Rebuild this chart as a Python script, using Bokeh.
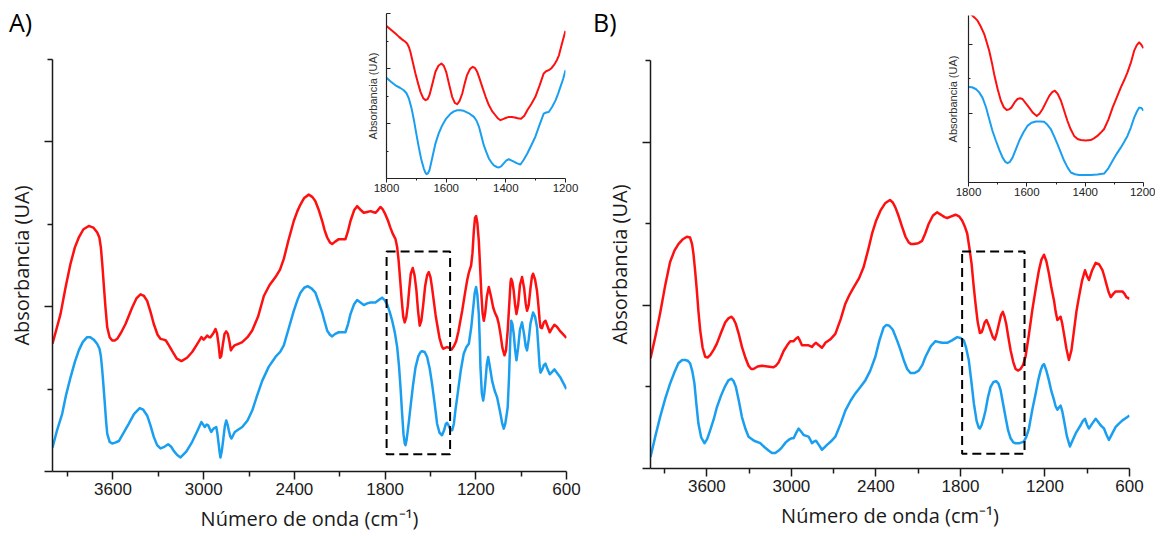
from bokeh.plotting import figure
from bokeh.layouts import row
from bokeh.models import Range1d, FixedTicker, Div
from bokeh.embed import file_html
from bokeh.resources import INLINE

RED = "#ff1010"
BLUE = "#1a9ff0"

# ---------------- data ----------------
a_red_x = [4000, 3975, 3947, 3915, 3881, 3852, 3826, 3795, 3760, 3730, 3704, 3690, 3680, 3670, 3661,
           3650, 3638, 3622, 3605, 3588, 3572, 3545, 3517, 3495, 3473, 3445, 3418, 3395, 3374, 3352,
           3330, 3305, 3286, 3265, 3250, 3230, 3208, 3178, 3147, 3110, 3076, 3045, 3015, 3000, 2985,
           2977, 2965, 2955, 2935, 2922, 2912, 2902, 2892, 2884, 2874, 2862, 2851, 2840, 2830, 2820,
           2810, 2796, 2770, 2745, 2710, 2679, 2640, 2602, 2565, 2525, 2495, 2470, 2440, 2404, 2380,
           2360, 2335, 2305, 2280, 2261, 2240, 2216, 2200, 2183, 2165, 2150, 2130, 2106, 2085, 2062,
           2045, 2029, 2005, 1985, 1965, 1941, 1918, 1897, 1880, 1864, 1848, 1831, 1815, 1798, 1780,
           1765, 1748, 1731, 1720, 1710, 1700, 1690, 1680, 1670, 1660, 1650, 1640, 1630, 1617, 1605,
           1593, 1582, 1571, 1560, 1548, 1535, 1522, 1511, 1500, 1490, 1478, 1466, 1456, 1440, 1425,
           1416, 1403, 1390, 1375, 1360, 1345, 1330, 1315, 1300, 1290, 1270, 1257, 1245, 1231, 1222,
           1213, 1205, 1198, 1190, 1180, 1172, 1163, 1155, 1147, 1138, 1127, 1114, 1100, 1085, 1072,
           1059, 1048, 1037, 1024, 1010, 1000, 989, 978, 970, 966, 958, 949, 940, 931, 920,
           908, 894, 880, 870, 861, 850, 838, 828, 821, 808, 795, 785, 778, 772, 762,
           750, 739, 725, 711, 695, 680, 665, 645, 625, 600]
a_red_y = [1.55, 1.72, 1.91, 2.22, 2.52, 2.72, 2.84, 2.94, 2.98, 2.96, 2.90, 2.84, 2.72, 2.50, 2.27,
           2.00, 1.75, 1.63, 1.59, 1.59, 1.61, 1.69, 1.79, 1.89, 1.99, 2.10, 2.15, 2.13, 2.07, 1.94,
           1.79, 1.66, 1.61, 1.60, 1.59, 1.53, 1.46, 1.37, 1.34, 1.38, 1.45, 1.54, 1.63, 1.60, 1.63,
           1.65, 1.63, 1.63, 1.68, 1.73, 1.68, 1.55, 1.38, 1.40, 1.53, 1.67, 1.70, 1.67, 1.58, 1.47,
           1.50, 1.53, 1.55, 1.57, 1.63, 1.71, 1.88, 2.13, 2.26, 2.36, 2.45, 2.58, 2.80, 3.04, 3.16,
           3.24, 3.32, 3.36, 3.33, 3.28, 3.18, 3.04, 2.93, 2.84, 2.78, 2.76, 2.79, 2.82, 2.82, 2.82,
           2.92, 3.04, 3.17, 3.22, 3.18, 3.14, 3.15, 3.16, 3.15, 3.14, 3.17, 3.21, 3.18, 3.12, 3.04,
           2.96, 2.88, 2.82, 2.72, 2.55, 2.32, 2.08, 1.88, 1.81, 1.87, 2.01, 2.22, 2.40, 2.47, 2.38,
           2.20, 1.95, 1.77, 1.83, 2.02, 2.25, 2.38, 2.42, 2.36, 2.24, 2.07, 1.90, 1.79, 1.62, 1.52,
           1.49, 1.50, 1.51, 1.50, 1.48, 1.52, 1.58, 1.70, 1.85, 1.95, 2.18, 2.32, 2.42, 2.50, 2.65,
           2.92, 3.08, 3.10, 3.02, 2.80, 2.50, 2.15, 1.92, 1.83, 1.92, 2.12, 2.24, 2.13, 1.99, 1.92,
           1.87, 1.79, 1.67, 1.50, 1.41, 1.47, 1.71, 2.05, 2.30, 2.34, 2.30, 2.19, 2.02, 1.91, 2.02,
           2.26, 2.36, 2.22, 2.04, 1.95, 2.02, 2.23, 2.37, 2.40, 2.33, 2.19, 2.00, 1.84, 1.75, 1.74,
           1.81, 1.83, 1.76, 1.69, 1.74, 1.78, 1.76, 1.71, 1.67, 1.62]

a_blue_x = [4000, 3970, 3936, 3910, 3881, 3852, 3826, 3800, 3771, 3750, 3727, 3705, 3689, 3680, 3672,
            3667, 3655, 3645, 3638, 3622, 3605, 3585, 3561, 3530, 3495, 3460, 3423, 3400, 3374, 3352,
            3330, 3308, 3286, 3260, 3235, 3215, 3198, 3175, 3153, 3115, 3076, 3045, 3015, 3000, 2993,
            2980, 2970, 2960, 2950, 2935, 2917, 2910, 2904, 2895, 2889, 2880, 2871, 2860, 2851, 2842,
            2834, 2825, 2816, 2805, 2794, 2770, 2745, 2710, 2679, 2645, 2613, 2570, 2525, 2495, 2470,
            2440, 2404, 2380, 2360, 2335, 2312, 2285, 2261, 2240, 2216, 2200, 2183, 2165, 2150, 2130,
            2106, 2085, 2062, 2045, 2029, 2005, 1985, 1963, 1941, 1918, 1897, 1880, 1864, 1842, 1820,
            1803, 1787, 1770, 1753, 1735, 1720, 1708, 1698, 1688, 1678, 1670, 1665, 1658, 1645, 1632,
            1615, 1599, 1580, 1565, 1555, 1538, 1522, 1505, 1489, 1472, 1456, 1440, 1423, 1410, 1398,
            1390, 1380, 1368, 1356, 1345, 1335, 1323, 1300, 1280, 1262, 1246, 1230, 1217, 1207, 1198,
            1190, 1180, 1174, 1169, 1160, 1151, 1143, 1136, 1127, 1118, 1105, 1092, 1075, 1059, 1048,
            1037, 1025, 1015, 1005, 995, 989, 980, 972, 966, 958, 949, 940, 931, 920, 908,
            894, 880, 870, 861, 850, 838, 821, 808, 795, 785, 778, 772, 760, 750, 739,
            725, 711, 695, 680, 660, 640, 620, 600]
a_blue_y = [0.29, 0.50, 0.70, 0.93, 1.14, 1.33, 1.47, 1.57, 1.63, 1.63, 1.60, 1.55, 1.49, 1.40, 1.25,
            1.14, 0.85, 0.60, 0.46, 0.36, 0.34, 0.35, 0.37, 0.47, 0.58, 0.70, 0.77, 0.75, 0.68, 0.56,
            0.42, 0.32, 0.28, 0.30, 0.33, 0.30, 0.25, 0.20, 0.17, 0.24, 0.36, 0.48, 0.60, 0.56, 0.54,
            0.57, 0.56, 0.52, 0.48, 0.52, 0.54, 0.47, 0.38, 0.24, 0.17, 0.25, 0.38, 0.55, 0.62, 0.57,
            0.50, 0.43, 0.40, 0.44, 0.48, 0.51, 0.54, 0.62, 0.74, 0.93, 1.10, 1.27, 1.39, 1.45, 1.53,
            1.72, 1.95, 2.08, 2.17, 2.23, 2.25, 2.22, 2.17, 2.06, 1.93, 1.82, 1.71, 1.66, 1.64, 1.67,
            1.69, 1.69, 1.69, 1.79, 1.91, 2.03, 2.08, 2.05, 2.02, 2.04, 2.05, 2.05, 2.05, 2.08, 2.11,
            2.08, 2.03, 1.94, 1.83, 1.68, 1.51, 1.28, 1.02, 0.72, 0.45, 0.34, 0.32, 0.38, 0.57, 0.78,
            1.05, 1.26, 1.40, 1.45, 1.46, 1.45, 1.39, 1.25, 1.06, 0.82, 0.58, 0.47, 0.44, 0.50, 0.58,
            0.59, 0.56, 0.51, 0.50, 0.58, 0.74, 0.90, 1.22, 1.43, 1.51, 1.55, 1.75, 1.99, 2.17, 2.24,
            2.15, 1.91, 1.60, 1.26, 0.95, 0.86, 0.96, 1.10, 1.30, 1.39, 1.25, 1.10, 0.98, 0.90, 0.80,
            0.70, 0.58, 0.52, 0.58, 0.70, 0.78, 1.15, 1.60, 1.83, 1.79, 1.67, 1.48, 1.35, 1.50, 1.72,
            1.81, 1.66, 1.52, 1.47, 1.60, 1.80, 1.93, 1.88, 1.75, 1.48, 1.28, 1.20, 1.24, 1.29, 1.31,
            1.24, 1.18, 1.21, 1.24, 1.19, 1.14, 1.07, 1.00]

b_red_x = [4000, 3965, 3932, 3895, 3861, 3830, 3802, 3770, 3742, 3719, 3705, 3695, 3683, 3671, 3660,
           3647, 3630, 3612, 3595, 3576, 3550, 3529, 3500, 3470, 3447, 3427, 3410, 3394, 3372, 3351,
           3325, 3304, 3285, 3269, 3240, 3209, 3170, 3127, 3110, 3091, 3075, 3055, 3030, 3008, 2995,
           2984, 2968, 2953, 2940, 2925, 2900, 2878, 2865, 2854, 2840, 2825, 2805, 2783, 2770, 2759,
           2725, 2688, 2650, 2617, 2590, 2558, 2520, 2487, 2455, 2427, 2398, 2368, 2335, 2300, 2280,
           2262, 2240, 2214, 2190, 2167, 2150, 2131, 2100, 2072, 2050, 2025, 1995, 1965, 1948, 1930,
           1912, 1894, 1865, 1835, 1810, 1788, 1770, 1752, 1738, 1721, 1707, 1693, 1678, 1662, 1650,
           1641, 1628, 1615, 1600, 1586, 1570, 1556, 1542, 1527, 1512, 1499, 1487, 1475, 1460, 1444,
           1426, 1409, 1390, 1373, 1355, 1338, 1315, 1290, 1265, 1243, 1225, 1207, 1190, 1172, 1155,
           1136, 1124, 1112, 1100, 1089, 1078, 1065, 1048, 1030, 1012, 994, 977, 959, 937, 916,
           902, 888, 865, 840, 815, 792, 778, 764, 748, 733, 715, 698, 675, 650, 635,
           622, 600]
b_red_y = [1.35, 1.62, 1.90, 2.25, 2.53, 2.67, 2.75, 2.81, 2.84, 2.83, 2.75, 2.63, 2.42, 2.18, 1.93,
           1.69, 1.48, 1.37, 1.36, 1.39, 1.46, 1.53, 1.66, 1.79, 1.84, 1.86, 1.83, 1.77, 1.64, 1.49,
           1.35, 1.26, 1.22, 1.22, 1.25, 1.26, 1.25, 1.24, 1.26, 1.30, 1.36, 1.44, 1.51, 1.56, 1.56,
           1.56, 1.59, 1.61, 1.57, 1.51, 1.51, 1.51, 1.50, 1.49, 1.52, 1.54, 1.51, 1.48, 1.51, 1.54,
           1.58, 1.65, 1.83, 2.02, 2.12, 2.22, 2.33, 2.47, 2.68, 2.88, 3.04, 3.16, 3.25, 3.29, 3.26,
           3.20, 3.10, 2.96, 2.84, 2.77, 2.75, 2.75, 2.76, 2.79, 2.88, 3.00, 3.10, 3.14, 3.12, 3.10,
           3.08, 3.07, 3.09, 3.11, 3.09, 3.04, 2.97, 2.88, 2.72, 2.51, 2.25, 2.02, 1.80, 1.66, 1.67,
           1.71, 1.79, 1.82, 1.76, 1.69, 1.61, 1.58, 1.66, 1.77, 1.88, 1.92, 1.86, 1.77, 1.61, 1.45,
           1.31, 1.22, 1.20, 1.22, 1.27, 1.37, 1.63, 1.94, 2.21, 2.43, 2.56, 2.62, 2.54, 2.39, 2.22,
           2.06, 1.92, 1.82, 1.84, 1.86, 1.78, 1.65, 1.47, 1.33, 1.45, 1.69, 1.92, 2.10, 2.30, 2.43,
           2.36, 2.31, 2.43, 2.52, 2.50, 2.43, 2.35, 2.26, 2.16, 2.10, 2.14, 2.17, 2.17, 2.17, 2.14,
           2.10, 2.08]

b_blue_x = [4000, 3965, 3932, 3895, 3861, 3830, 3802, 3775, 3754, 3735, 3719, 3703, 3688, 3675, 3660,
            3640, 3617, 3598, 3576, 3550, 3529, 3500, 3470, 3447, 3427, 3410, 3394, 3372, 3351, 3325,
            3304, 3265, 3221, 3190, 3162, 3138, 3114, 3090, 3067, 3040, 3020, 3000, 2984, 2965, 2949,
            2930, 2913, 2895, 2878, 2865, 2854, 2840, 2825, 2805, 2783, 2765, 2747, 2720, 2688, 2650,
            2617, 2580, 2546, 2510, 2475, 2440, 2404, 2375, 2345, 2325, 2305, 2280, 2250, 2225, 2203,
            2178, 2155, 2125, 2096, 2070, 2048, 2010, 1977, 1955, 1930, 1910, 1894, 1860, 1823, 1800,
            1776, 1760, 1741, 1722, 1705, 1685, 1670, 1662, 1650, 1636, 1622, 1605, 1586, 1566, 1546,
            1530, 1515, 1498, 1480, 1462, 1444, 1425, 1409, 1380, 1350, 1332, 1314, 1290, 1266, 1248,
            1231, 1218, 1207, 1190, 1172, 1155, 1136, 1124, 1112, 1100, 1089, 1077, 1065, 1045, 1023,
            1003, 982, 965, 947, 932, 916, 902, 888, 865, 840, 822, 805, 793, 781, 765,
            746, 722, 698, 675, 650, 625, 600]
b_blue_y = [0.14, 0.40, 0.63, 0.86, 1.04, 1.18, 1.29, 1.33, 1.33, 1.32, 1.29, 1.19, 1.04, 0.80, 0.55,
            0.38, 0.31, 0.36, 0.47, 0.61, 0.75, 0.89, 1.01, 1.08, 1.10, 1.07, 1.00, 0.82, 0.63, 0.48,
            0.39, 0.34, 0.31, 0.26, 0.22, 0.19, 0.19, 0.22, 0.26, 0.32, 0.35, 0.37, 0.37, 0.44, 0.49,
            0.45, 0.41, 0.40, 0.39, 0.35, 0.31, 0.33, 0.34, 0.29, 0.23, 0.26, 0.29, 0.33, 0.39, 0.55,
            0.71, 0.83, 0.92, 1.00, 1.08, 1.20, 1.37, 1.57, 1.73, 1.76, 1.75, 1.70, 1.57, 1.45, 1.33,
            1.22, 1.17, 1.17, 1.20, 1.27, 1.37, 1.50, 1.56, 1.55, 1.54, 1.54, 1.54, 1.57, 1.61, 1.60,
            1.57, 1.48, 1.33, 1.06, 0.80, 0.58, 0.50, 0.49, 0.53, 0.61, 0.71, 0.87, 1.00, 1.06, 1.07,
            1.04, 0.96, 0.80, 0.63, 0.47, 0.37, 0.32, 0.31, 0.31, 0.33, 0.39, 0.49, 0.72, 0.92, 1.08,
            1.20, 1.26, 1.28, 1.20, 1.08, 0.95, 0.84, 0.76, 0.72, 0.75, 0.77, 0.70, 0.59, 0.40, 0.27,
            0.35, 0.43, 0.48, 0.53, 0.58, 0.61, 0.54, 0.49, 0.55, 0.61, 0.57, 0.53, 0.51, 0.49, 0.42,
            0.35, 0.43, 0.51, 0.55, 0.59, 0.62, 0.65]

ia_red_x = [1800, 1785, 1770, 1758, 1747, 1738, 1731, 1725, 1720, 1712, 1703, 1694, 1686, 1677, 1669,
            1662, 1656, 1646, 1636, 1626, 1616, 1608, 1600, 1590, 1580, 1571, 1563, 1555, 1546, 1538,
            1530, 1520, 1511, 1503, 1496, 1488, 1479, 1468, 1457, 1446, 1435, 1426, 1418, 1405, 1390,
            1380, 1370, 1360, 1349, 1338, 1328, 1315, 1301, 1287, 1273, 1265, 1256, 1248, 1239, 1230,
            1222, 1212, 1200]
ia_red_y = [5.54, 5.41, 5.27, 5.15, 5.05, 4.98, 4.91, 4.78, 4.61, 4.24, 3.82, 3.45, 3.15, 2.92, 2.85,
            2.89, 3.03, 3.45, 3.88, 4.10, 4.18, 4.10, 3.88, 3.42, 2.97, 2.75, 2.70, 2.82, 3.09, 3.45,
            3.76, 3.98, 4.06, 4.01, 3.88, 3.63, 3.33, 2.98, 2.67, 2.45, 2.30, 2.18, 2.12, 2.18, 2.24,
            2.24, 2.22, 2.19, 2.17, 2.28, 2.48, 2.70, 2.97, 3.38, 3.82, 3.90, 3.94, 4.00, 4.12, 4.28,
            4.48, 4.90, 5.37]
ia_blue_x = [1800, 1785, 1770, 1755, 1742, 1733, 1725, 1716, 1708, 1700, 1692, 1684, 1675, 1670, 1666,
             1661, 1656, 1646, 1636, 1625, 1613, 1600, 1585, 1574, 1563, 1552, 1541, 1525, 1507, 1498,
             1490, 1482, 1474, 1465, 1457, 1448, 1440, 1431, 1423, 1415, 1407, 1398, 1390, 1382, 1373,
             1362, 1351, 1340, 1328, 1315, 1301, 1287, 1273, 1265, 1256, 1245, 1233, 1225, 1217, 1208,
             1200]
ia_blue_y = [3.66, 3.52, 3.39, 3.30, 3.21, 3.10, 2.91, 2.55, 2.12, 1.62, 1.15, 0.72, 0.36, 0.22, 0.16,
             0.19, 0.30, 0.78, 1.27, 1.64, 1.94, 2.18, 2.36, 2.44, 2.48, 2.48, 2.46, 2.38, 2.24, 2.10,
             1.88, 1.55, 1.21, 0.95, 0.73, 0.58, 0.48, 0.42, 0.40, 0.45, 0.55, 0.66, 0.70, 0.66, 0.61,
             0.55, 0.51, 0.68, 0.91, 1.20, 1.52, 1.95, 2.36, 2.40, 2.42, 2.60, 2.85, 3.08, 3.33, 3.62,
             3.94]

ib_red_x = [1800, 1786, 1778, 1769, 1758, 1746, 1738, 1729, 1720, 1712, 1700, 1689, 1679, 1669, 1661,
            1653, 1642, 1632, 1623, 1615, 1604, 1592, 1579, 1566, 1556, 1546, 1534, 1523, 1513, 1504,
            1494, 1483, 1472, 1461, 1450, 1438, 1426, 1415, 1398, 1381, 1370, 1358, 1347, 1335, 1320,
            1306, 1292, 1278, 1266, 1255, 1243, 1232, 1223, 1215, 1208, 1200]
ib_red_y = [4.95, 4.83, 4.77, 4.69, 4.52, 4.30, 4.08, 3.82, 3.48, 3.14, 2.70, 2.37, 2.18, 2.10, 2.12,
            2.17, 2.32, 2.42, 2.44, 2.42, 2.30, 2.17, 2.02, 1.93, 2.00, 2.13, 2.33, 2.51, 2.62, 2.66,
            2.57, 2.37, 2.08, 1.79, 1.55, 1.35, 1.26, 1.23, 1.22, 1.23, 1.28, 1.35, 1.44, 1.55, 1.83,
            2.17, 2.46, 2.75, 2.97, 3.19, 3.48, 3.82, 3.98, 4.06, 4.00, 3.89]
ib_blue_x = [1800, 1788, 1775, 1764, 1752, 1740, 1729, 1718, 1706, 1694, 1683, 1674, 1666, 1658, 1649,
             1638, 1626, 1612, 1598, 1584, 1569, 1555, 1541, 1530, 1518, 1507, 1495, 1483, 1472, 1460,
             1449, 1435, 1421, 1400, 1381, 1358, 1335, 1320, 1306, 1292, 1278, 1266, 1255, 1243, 1232,
             1223, 1215, 1207, 1200]
ib_blue_y = [2.77, 2.76, 2.71, 2.62, 2.46, 2.18, 1.84, 1.50, 1.21, 0.94, 0.72, 0.60, 0.56, 0.60, 0.72,
             0.95, 1.21, 1.45, 1.64, 1.73, 1.77, 1.77, 1.76, 1.68, 1.55, 1.35, 1.11, 0.86, 0.63, 0.43,
             0.29, 0.24, 0.22, 0.22, 0.22, 0.23, 0.26, 0.42, 0.63, 0.83, 1.01, 1.18, 1.35, 1.60, 1.88,
             2.05, 2.17, 2.16, 2.08]

box_a = dict(left=1790, right=1370, bottom=0.21, top=2.67)
box_b = dict(left=1788, right=1345, bottom=0.18, top=2.66)

main_x_major = [3600, 3000, 2400, 1800, 1200, 600]
main_x_minor = [3900, 3300, 2700, 2100, 1500, 900]
main_y_major = [0, 2, 4]
main_y_minor = [1, 3, 5]
inset_x_major = [1800, 1600, 1400, 1200]
inset_x_minor = [1700, 1500, 1300]

X_TITLE = "Número de onda (cm⁻¹)"
Y_TITLE = "Absorbancia (UA)"
PANEL_LETTERS = ["A)", "B)"]


def main_fig(fw, fh, bl, br, bt, bb, margin):
    p = figure(frame_width=fw, frame_height=fh, min_border_left=bl, min_border_right=br,
               min_border_top=bt, min_border_bottom=bb,
               x_range=Range1d(4000, 600), y_range=Range1d(0, 5),
               output_backend="svg", toolbar_location=None)
    p.frame_align = False
    p.margin = margin
    p.grid.visible = False
    p.outline_line_color = None
    p.background_fill_alpha = 0
    p.border_fill_alpha = 0
    xa, ya = p.xaxis[0], p.yaxis[0]
    xa.ticker = FixedTicker(ticks=main_x_major, minor_ticks=main_x_minor)
    ya.ticker = FixedTicker(ticks=main_y_major, minor_ticks=main_y_minor)
    for ax in (xa, ya):
        ax.axis_line_width = 1.5
        ax.axis_line_color = "#1a1a1a"
        ax.major_tick_line_color = "#1a1a1a"
        ax.minor_tick_line_color = "#1a1a1a"
        ax.major_tick_line_width = 1.5
        ax.minor_tick_line_width = 1.5
        ax.major_tick_in = 0
        ax.minor_tick_in = 0
        ax.major_tick_out = 8
        ax.minor_tick_out = 5
        ax.axis_label_text_font = "Open Sans"
        ax.axis_label_text_font_size = "20px"
        ax.axis_label_text_font_style = "normal"
        ax.axis_label_text_color = "#1a1a1a"
    xa.major_label_text_font = "Liberation Sans"
    xa.major_label_text_font_size = "17px"
    xa.major_label_text_color = "#1a1a1a"
    xa.major_label_standoff = 3
    xa.axis_label = X_TITLE
    xa.axis_label_standoff = 7
    ya.major_label_overrides = {t: " " for t in main_y_major}
    ya.major_label_text_font_size = "1px"
    ya.major_label_standoff = 0
    ya.axis_label = Y_TITLE
    ya.axis_label_standoff = 6
    return p


def inset_fig(fw, fh, bl, br, bt, bb, ymax, ymaj, ymin, margin, ylab_standoff):
    p = figure(frame_width=fw, frame_height=fh, min_border_left=bl, min_border_right=br,
               min_border_top=bt, min_border_bottom=bb,
               x_range=Range1d(1800, 1200), y_range=Range1d(0, ymax),
               output_backend="svg", toolbar_location=None)
    p.frame_align = False
    p.margin = margin
    p.grid.visible = False
    p.outline_line_color = None
    p.background_fill_color = "white"
    p.border_fill_alpha = 0
    xa, ya = p.xaxis[0], p.yaxis[0]
    xa.ticker = FixedTicker(ticks=inset_x_major, minor_ticks=inset_x_minor)
    ya.ticker = FixedTicker(ticks=ymaj, minor_ticks=ymin)
    for ax in (xa, ya):
        ax.axis_line_width = 1.2
        ax.axis_line_color = "#222222"
        ax.major_tick_line_color = "#222222"
        ax.minor_tick_line_color = "#222222"
        ax.major_tick_line_width = 1
        ax.minor_tick_line_width = 1
    xa.major_tick_in = 0
    xa.minor_tick_in = 0
    xa.major_tick_out = 4
    xa.minor_tick_out = 2
    ya.major_tick_in = 4
    ya.minor_tick_in = 2
    ya.major_tick_out = 0
    ya.minor_tick_out = 0
    xa.major_label_text_font = "Liberation Sans"
    xa.major_label_text_font_size = "11.5px"
    xa.major_label_text_color = "#222222"
    xa.major_label_standoff = 1
    ya.major_label_overrides = {t: " " for t in ymaj}
    ya.major_label_text_font_size = "1px"
    ya.major_label_standoff = 0
    ya.axis_label = Y_TITLE
    ya.axis_label_text_font = "Liberation Sans"
    ya.axis_label_text_font_size = "11px"
    ya.axis_label_text_font_style = "normal"
    ya.axis_label_text_color = "#333333"
    ya.axis_label_standoff = ylab_standoff
    return p


def letter_div(text, margin):
    return Div(text=text, width=40, height=32, margin=margin,
               styles={"font-family": "Open Sans", "font-size": "25px", "line-height": "25px",
                       "color": "black", "padding": "0px"})


# Panel A: canvas at x 0..582
pa = main_fig(514, 412, 52, 16, 59, 65, (0, 0, 0, 0))
pa.line(a_red_x, a_red_y, line_color=RED, line_width=2.5, line_join="round")
pa.line(a_blue_x, a_blue_y, line_color=BLUE, line_width=2.5, line_join="round")
pa.quad(left=[box_a["left"]], right=[box_a["right"]], bottom=[box_a["bottom"]], top=[box_a["top"]],
        fill_color=None, line_color="black", line_width=2, line_dash="9 5")

# Panel B: canvas at x 590..1145
pb = main_fig(479, 408, 60, 16, 60, 68, (0, 0, 0, 8))
pb.line(b_red_x, b_red_y, line_color=RED, line_width=2.5, line_join="round")
pb.line(b_blue_x, b_blue_y, line_color=BLUE, line_width=2.5, line_join="round")
pb.quad(left=[box_b["left"]], right=[box_b["right"]], bottom=[box_b["bottom"]], top=[box_b["top"]],
        fill_color=None, line_color="black", line_width=2, line_dash="9 5")

# Insets
ia = inset_fig(179, 165, 25, 15, 5, 22, 6, [0, 2, 4, 6], [1, 3, 5], (8, 0, 0, -784), 4)
ia.line(ia_red_x, ia_red_y, line_color=RED, line_width=2, line_join="round")
ia.line(ia_blue_x, ia_blue_y, line_color=BLUE, line_width=2, line_join="round")

ib = inset_fig(175, 167, 25, 12, 7, 20, 4.84, [0, 2, 4], [1, 3], (8, 0, 0, 363), 6)
ib.line(ib_red_x, ib_red_y, line_color=RED, line_width=2, line_join="round")
ib.line(ib_blue_x, ib_blue_y, line_color=BLUE, line_width=2, line_join="round")

# Panel letters (ib ends at x=1155)
da = letter_div(PANEL_LETTERS[0], (10, 0, 0, -1146))
db = letter_div(PANEL_LETTERS[1], (10, 0, 0, 544))

layout = row(pa, pb, ia, ib, da, db)

with open("out.html", "w") as f:
    f.write(file_html(layout, INLINE))
